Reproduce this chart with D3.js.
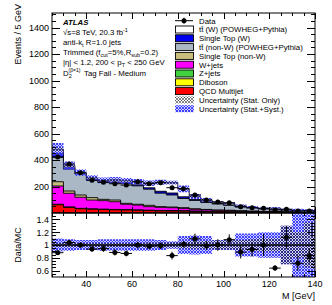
<!DOCTYPE html>
<html><head><meta charset="utf-8">
<script src="https://cdn.jsdelivr.net/npm/d3@7"></script>
<style>
body{margin:0;background:#fff}
svg{display:block;font-family:"Liberation Sans",Arial,sans-serif}
</style>
</head><body>
<svg id="c" width="332" height="305"></svg>
<script>
// bin low edges (5 GeV bins), last upper edge 140
const binLow = [25,30,35,40,45,50,55,60,65,70,75,80,85,90,95,100,105,110,115,120,125,130,135];
const massMax = 140;

// MC components (events / bin)
const qcd      = [62,42,32,28,26,24,22,20,18,16,15,14,12,10,9,8,7,6,5,5,4,4,3];
const diboson  = [1,1,1,1,1,1,1,1,1,1,1,1,1,1,1,1,0.5,0.5,0.5,0.5,0.5,0.5,0.5];
const zjets    = [3,3,2,2,2,2,2,2,2,2,2,2,1,1,1,1,1,1,0.5,0.5,0.5,0.5,0.5];
const wjets    = [138,103,84,67,64,58,41,37,27,24,22,18,14,11,9,8,6,5,4,3,3,2,2];
const stopNonW = [32,17,17,18,10,13,7,6,10,5,5,5,4,4,3,3,3,2,2,2,1,1,1];
const ttNonW   = [184,164,159,133,129,130,149,139,122,102,91,70,63,53,45,37,27.5,23.5,18,17,11,9,8];
const stopW    = [30,12,4,5,5,6,6,8,10,14,15,12,6,4,3,3,2,1,1,1,1,1,0.5];
const ttW      = [31,14,5,10,9,16,15,23,35,68,78,60,23,15,12,11,7,4,4,7,4,3,2.5];

// data
const dataVals = [423,370,304,247,232,221,211,236,221,229,191,184,136,98,83,78,48,40,35,23,28,15,15];
const dataErr  = [16,14,13,12,12,12,11,12,11,12,14,9,10,7,7.5,6,5.4,4.7,6,1.6,4.5,2.5,2];

// relative uncertainties on MC
const statRel  = [0.03,0.03,0.03,0.03,0.03,0.03,0.03,0.03,0.04,0.04,0.04,0.05,0.06,0.06,0.07,0.07,0.08,0.09,0.1,0.1,0.3,0.2,0.35];
const totRel   = [0.10,0.09,0.08,0.08,0.09,0.09,0.09,0.09,0.09,0.08,0.06,0.14,0.15,0.14,0.08,0.08,0.18,0.18,0.2,0.2,0.3,0.55,0.6];

const yMajor = [200,400,600,800,1000,1200,1400];
const rMajor = [0.6,0.8,1,1.2,1.4];
const xMajor = [40,60,80,100,120,140];

const W = 332, H = 305;
const xL = 52, xR = 315, yTop = 13, yMid = 213, yBot = 277;
const svg = d3.select("#c");
const defs = svg.append("defs");

function hatch(id, color, w, bg) {
  const p = defs.append("pattern").attr("id", id).attr("patternUnits", "userSpaceOnUse")
    .attr("width", 3).attr("height", 3);
  if (bg) p.append("rect").attr("width", 3).attr("height", 3).attr("fill", bg);
  p.append("path").attr("d", "M0,3L3,0M-1,1L1,-1M2,4L4,2").attr("stroke", color).attr("stroke-width", w);
  p.append("path").attr("d", "M0,0L3,3M-1,2L1,4M2,-1L4,1").attr("stroke", color).attr("stroke-width", w);
}
hatch("unc", "#3030ff", 0.9, "rgba(150,150,255,0.45)");
hatch("stat", "#222", 0.55);

defs.append("clipPath").attr("id", "cm").append("rect")
  .attr("x", xL).attr("y", yTop).attr("width", xR - xL).attr("height", yMid - yTop);
defs.append("clipPath").attr("id", "cr").append("rect")
  .attr("x", xL).attr("y", yMid).attr("width", xR - xL).attr("height", yBot - yMid);

const x = d3.scaleLinear([25, massMax], [xL, xR]);
const y = d3.scaleLinear([0, 1510], [yMid, yTop]);
const yr = d3.scaleLinear([0.5, 1.5], [yBot, yMid]);
const nb = binLow.length;
const edges = binLow.concat([massMax]);

function stepArea(lo, hi, ys) {
  const pts = edges.map((e, i) => ({ e, lo: lo[Math.min(i, nb - 1)], hi: hi[Math.min(i, nb - 1)] }));
  return d3.area().curve(d3.curveStepAfter).x(d => x(d.e)).y0(d => ys(d.lo)).y1(d => ys(d.hi))(pts);
}

const comps = [
  { key: "qcd", vals: qcd, color: "#ff0000", label: "QCD Multijet" },
  { key: "dib", vals: diboson, color: "#ffff00", label: "Diboson" },
  { key: "zj", vals: zjets, color: "#40d040", label: "Z+jets" },
  { key: "wj", vals: wjets, color: "#ff00ff", label: "W+jets" },
  { key: "stn", vals: stopNonW, color: "#c9bd7e", label: "Single Top (non-W)" },
  { key: "ttn", vals: ttNonW, color: "#a9b8c4", label: "tt\u0304 (non-W) (POWHEG+Pythia)" },
  { key: "stw", vals: stopW, color: "#0000ee", label: "Single Top (W)" },
  { key: "ttw", vals: ttW, color: "#ffffff", label: "tt\u0304 (W) (POWHEG+Pythia)" }
];
const rows = binLow.map((b, i) => { const r = {}; comps.forEach(c => r[c.key] = c.vals[i]); return r; });
const series = d3.stack().keys(comps.map(c => c.key))(rows);
const zeros = binLow.map(() => 0);
const total = series[series.length - 1].map(d => d[1]);

// ---- main panel
const gm = svg.append("g").attr("clip-path", "url(#cm)");
for (let k = comps.length - 1; k >= 0; k--) {
  gm.append("path").attr("d", stepArea(zeros, series[k].map(d => d[1]), y))
    .attr("fill", comps[k].color).attr("stroke", "#000").attr("stroke-width", 0.9);
}
gm.append("path").attr("d", stepArea(total.map((t, i) => t * (1 - totRel[i])), total.map((t, i) => t * (1 + totRel[i])), y))
  .attr("fill", "url(#unc)");
gm.append("path").attr("d", stepArea(total.map((t, i) => t * (1 - statRel[i])), total.map((t, i) => t * (1 + statRel[i])), y))
  .attr("fill", "url(#stat)");

const dg = gm.append("g");
binLow.forEach((b, i) => {
  const cx = x(b + 2.5), cy = y(dataVals[i]);
  dg.append("line").attr("x1", x(b)).attr("x2", x(b + 5)).attr("y1", cy).attr("y2", cy).attr("stroke", "#000").attr("stroke-width", 1);
  dg.append("line").attr("x1", cx).attr("x2", cx).attr("y1", y(dataVals[i] - dataErr[i])).attr("y2", y(dataVals[i] + dataErr[i])).attr("stroke", "#000").attr("stroke-width", 1);
  dg.append("circle").attr("cx", cx).attr("cy", cy).attr("r", 2.5).attr("fill", "#000");
});

// ---- ratio panel
const gr = svg.append("g").attr("clip-path", "url(#cr)");
gr.append("path").attr("d", stepArea(totRel.map(r => 1 - r), totRel.map(r => 1 + r), yr)).attr("fill", "url(#unc)");
gr.append("path").attr("d", stepArea(statRel.map(r => 1 - r), statRel.map(r => 1 + r), yr)).attr("fill", "url(#stat)");
gr.append("line").attr("x1", xL).attr("x2", xR).attr("y1", yr(1)).attr("y2", yr(1)).attr("stroke", "#000").attr("stroke-width", 1.5);
binLow.forEach((b, i) => {
  const r = dataVals[i] / total[i], e = dataErr[i] / total[i];
  const cx = x(b + 2.5), cy = yr(r);
  gr.append("line").attr("x1", x(b)).attr("x2", x(b + 5)).attr("y1", cy).attr("y2", cy).attr("stroke", "#000").attr("stroke-width", 1);
  gr.append("line").attr("x1", cx).attr("x2", cx).attr("y1", yr(r - e)).attr("y2", yr(r + e)).attr("stroke", "#000").attr("stroke-width", 1);
  gr.append("circle").attr("cx", cx).attr("cy", cy).attr("r", 2.5).attr("fill", "#000");
});

// ---- frames and ticks
const ax = svg.append("g").attr("stroke", "#000").attr("stroke-width", 1).attr("fill", "none");
ax.append("rect").attr("x", xL).attr("y", yTop).attr("width", xR - xL).attr("height", yMid - yTop);
ax.append("rect").attr("x", xL).attr("y", yMid).attr("width", xR - xL).attr("height", yBot - yMid);

function yTicks(ys, vals, len) {
  vals.forEach(v => {
    const p = Math.round(ys(v)) + 0.5;
    ax.append("line").attr("x1", xL).attr("x2", xL + len).attr("y1", p).attr("y2", p);
    ax.append("line").attr("x1", xR).attr("x2", xR - len).attr("y1", p).attr("y2", p);
  });
}
function xTicks(vals, len, y0, dir) {
  vals.forEach(v => {
    const p = Math.round(x(v)) + 0.5;
    ax.append("line").attr("x1", p).attr("x2", p).attr("y1", y0).attr("y2", y0 + dir * len);
  });
}
const xMinor = d3.range(25, massMax + 0.1, 5);
yTicks(y, d3.range(50, 1501, 50), 4);
yTicks(y, yMajor, 8);
yTicks(yr, d3.range(0.55, 1.5, 0.05), 4);
yTicks(yr, rMajor, 8);
xTicks(xMinor, 3, yTop, 1); xTicks(xMajor, 6, yTop, 1);
xTicks(xMinor, 3, yMid, -1); xTicks(xMajor, 6, yMid, -1);
xTicks(xMinor, 3, yMid, 1); xTicks(xMajor, 6, yMid, 1);
xTicks(xMinor, 3, yBot, -1); xTicks(xMajor, 6, yBot, -1);

const lab = svg.append("g").attr("font-size", 9).attr("fill", "#000");
yMajor.forEach(v => lab.append("text").attr("x", 49).attr("y", y(v) + 3.3).attr("text-anchor", "end").text(v));
rMajor.forEach(v => lab.append("text").attr("x", 49).attr("y", yr(v) + 3.3).attr("text-anchor", "end").text(v));
xMajor.forEach(v => lab.append("text").attr("x", x(v)).attr("y", 287).attr("text-anchor", "middle").text(v));
lab.append("text").attr("transform", "translate(21,4) rotate(-90)").attr("text-anchor", "end").text("Events / 5 GeV");
lab.append("text").attr("transform", `translate(21,${yr(1)}) rotate(-90)`).attr("text-anchor", "middle").text("Data/MC");
lab.append("text").attr("x", xR).attr("y", 299).attr("text-anchor", "end").text("M [GeV]");

// ---- annotation text
const fs = 7.8;
function rich(xp, yp, parts) {
  const t = svg.append("text").attr("x", xp).attr("y", yp).attr("font-size", fs);
  let shift = 0;
  parts.forEach(([s, kind]) => {
    const target = kind === "sub" ? 2 : kind === "sup" ? -3 : 0;
    t.append("tspan").attr("dy", target - shift).attr("font-size", kind ? fs * 0.7 : fs).text(s);
    shift = target;
  });
  if (shift) t.append("tspan").attr("dy", -shift).text("");
  return t;
}
svg.append("text").attr("x", 63).attr("y", 25).attr("font-size", 7.8).attr("font-weight", "bold")
  .attr("font-style", "italic").text("ATLAS");
rich(63, 35, [["\u221As=8 TeV, 20.3 fb"], ["-1", "sup"]]);
rich(63, 45, [["anti-k"], ["t", "sub"], [" R=1.0 jets"]]);
rich(63, 55, [["Trimmed (f"], ["cut", "sub"], ["=5%,R"], ["sub", "sub"], ["=0.2)"]]);
rich(63, 64.5, [["|\u03B7| < 1.2,  200 < p"], ["T", "sub"], [" < 250 GeV"]]);
rich(63, 76, [["D"], ["2", "sub"]]);
svg.append("text").attr("x", 68.5).attr("y", 71.8).attr("font-size", 5).text("(\u03B2=1)");
svg.append("text").attr("x", 84).attr("y", 76).attr("font-size", fs).text("Tag Fail - Medium");

// ---- legend
const leg = svg.append("g");
const legItems = [{ label: "Data", type: "data" }]
  .concat(comps.slice().reverse().map(c => ({ label: c.label, type: "box", color: c.color })))
  .concat([{ label: "Uncertainty (Stat. Only)", type: "pat", fill: "url(#stat)" },
           { label: "Uncertainty (Stat.+Syst.)", type: "pat", fill: "url(#unc)" }]);
legItems.forEach((it, i) => {
  const cy = 20.7 + i * 8.8;
  if (it.type === "data") {
    leg.append("line").attr("x1", 175).attr("x2", 193).attr("y1", cy).attr("y2", cy).attr("stroke", "#000");
    leg.append("line").attr("x1", 184).attr("x2", 184).attr("y1", cy - 3).attr("y2", cy + 3).attr("stroke", "#000");
    leg.append("circle").attr("cx", 184).attr("cy", cy).attr("r", 2.5).attr("fill", "#000");
  } else if (it.type === "box") {
    leg.append("rect").attr("x", 175.5).attr("y", cy - 3.5).attr("width", 18).attr("height", 7)
      .attr("fill", it.color).attr("stroke", "#000").attr("stroke-width", 0.9);
  } else {
    leg.append("rect").attr("x", 175).attr("y", cy - 3.5).attr("width", 19).attr("height", 7).attr("fill", it.fill);
  }
  leg.append("text").attr("x", 199).attr("y", cy + 2.8).attr("font-size", fs).text(it.label);
});
</script>
</body></html>
